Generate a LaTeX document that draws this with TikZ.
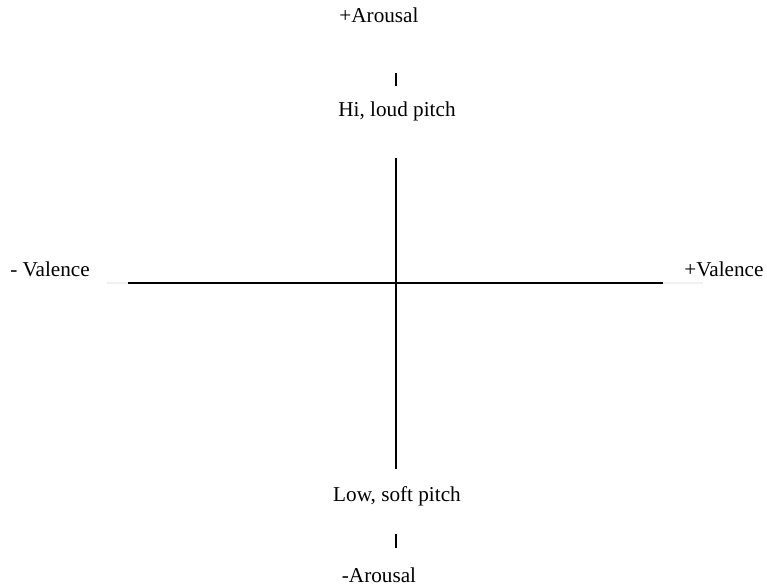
\documentclass[tikz,border=0pt]{standalone}
\usepackage{fontspec}
\setmainfont{Liberation Serif}
\usetikzlibrary{positioning}

\begin{document}
\begin{tikzpicture}[
    x=0.5pt, y=-0.5pt,
    font=\fontsize{10.6}{12}\selectfont,
    lbl/.style={inner sep=0pt, anchor=base},
    axis/.style={line width=1pt},
    tick/.style={line width=1pt},
    faint/.style={line width=0.6pt, draw=black!6},
  ]
    \useasboundingbox (0,0) rectangle (767,587);

    % labels
    \node[lbl] (aplus)  at (379,23)  {+Arousal};
    \node[lbl] (hi)     at (397,117) {Hi, loud pitch};
    \node[lbl] (vminus) at (50,277)  {- Valence};
    \node[lbl] (vplus)  at (724,277) {+Valence};
    \node[lbl] (low)    at (397,502) {Low, soft pitch};
    \node[lbl] (aminus) at (379,583) {-Arousal};

    % axes
    \coordinate (top)   at (396,158);
    \coordinate (bot)   at (396,469);
    \coordinate (left)  at (128,283);
    \coordinate (right) at (663,283);
    \draw[faint] (left) -- ++(-21,0);
    \draw[faint] (right) -- ++(40,0);
    \draw[axis] (top) -- (bot);
    \draw[axis] (left) -- (right);

    % small ticks
    \draw[tick] (396,73) -- (396,86);
    \draw[tick] (396,534) -- (396,548);
\end{tikzpicture}
\end{document}
